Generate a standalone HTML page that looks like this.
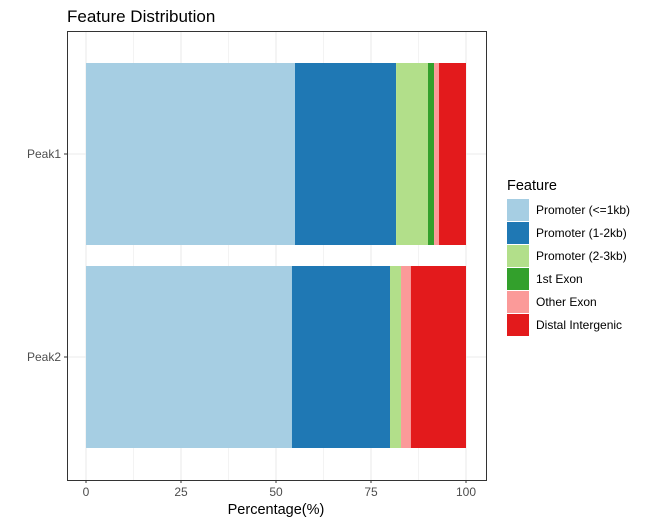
<!DOCTYPE html>
<html><head><meta charset="utf-8"><style>
body{margin:0;background:#fff;font-family:"Liberation Sans",Arial,sans-serif}
</style></head><body>
<svg id="c" width="648" height="524" xmlns="http://www.w3.org/2000/svg">
<text x="67" y="22" font-size="17" fill="#000">Feature Distribution</text>
<g id="grid"></g><g id="bars"></g>
<rect x="67.5" y="31.5" width="419" height="449" fill="none" stroke="#333" stroke-width="1"/>
<g id="axes"></g>
<text x="276" y="514" font-size="14.5" text-anchor="middle" fill="#000">Percentage(%)</text>
<g id="legend"></g>
</svg>
<script>
const categories=["Peak1","Peak2"];
const features=["Promoter (<=1kb)","Promoter (1-2kb)","Promoter (2-3kb)","1st Exon","Other Exon","Distal Intergenic"];
const colors=["#A6CEE3","#1F78B4","#B2DF8A","#33A02C","#FB9A99","#E31A1C"];
const peak1=[55.0,26.6,8.4,1.6,1.3,7.1];
const peak2=[54.2,25.8,2.9,0,2.6,14.5];
const series=[peak1,peak2];
const xTicks=[0,25,50,75,100];
const NS="http://www.w3.org/2000/svg";
const X=v=>86+v*3.8;
const yCenter=[154,357], bh=182;
function mk(t,a,p){const e=document.createElementNS(NS,t);for(const k in a)e.setAttribute(k,a[k]);p.appendChild(e);return e;}
const g=document.getElementById('grid'),b=document.getElementById('bars'),ax=document.getElementById('axes'),lg=document.getElementById('legend');
for(let v=0;v<=100;v+=12.5){const l=mk('line',{x1:X(v),x2:X(v),y1:31,y2:480,stroke:'#ebebeb','stroke-width':v%25===0?1.1:0.6},g);

}
yCenter.forEach(y=>{const l=mk('line',{x1:67,x2:486,y1:y,y2:y,stroke:'#ebebeb','stroke-width':1.1},g);

});
series.forEach((s,i)=>{let acc=0;s.forEach((v,j)=>{const r=mk('rect',{x:X(acc),y:yCenter[i]-bh/2,width:Math.max(0,X(acc+v)-X(acc)),height:bh,fill:colors[j]},b);

acc+=v;});
const t=mk('text',{x:61,y:yCenter[i]+4,'font-size':12,'text-anchor':'end',fill:'#4d4d4d'},ax);t.textContent=categories[i];


const tk=mk('line',{x1:64,x2:67,y1:yCenter[i],y2:yCenter[i],stroke:'#333'},ax);

});
xTicks.forEach(v=>{const tk=mk('line',{x1:X(v),x2:X(v),y1:480,y2:483,stroke:'#333'},ax);


const t=mk('text',{x:X(v),y:496,'font-size':12,'text-anchor':'middle',fill:'#4d4d4d'},ax);t.textContent=v;

});
const tt=mk('text',{x:507,y:190,'font-size':14.5,fill:'#000'},lg);tt.textContent='Feature';


features.forEach((f,i)=>{const y=199+i*23;
const r=mk('rect',{x:507,y:y,width:22,height:22,fill:colors[i]},lg);


const t=mk('text',{x:536,y:y+15,'font-size':12,fill:'#000'},lg);t.textContent=f;

});
</script>
</body></html>
